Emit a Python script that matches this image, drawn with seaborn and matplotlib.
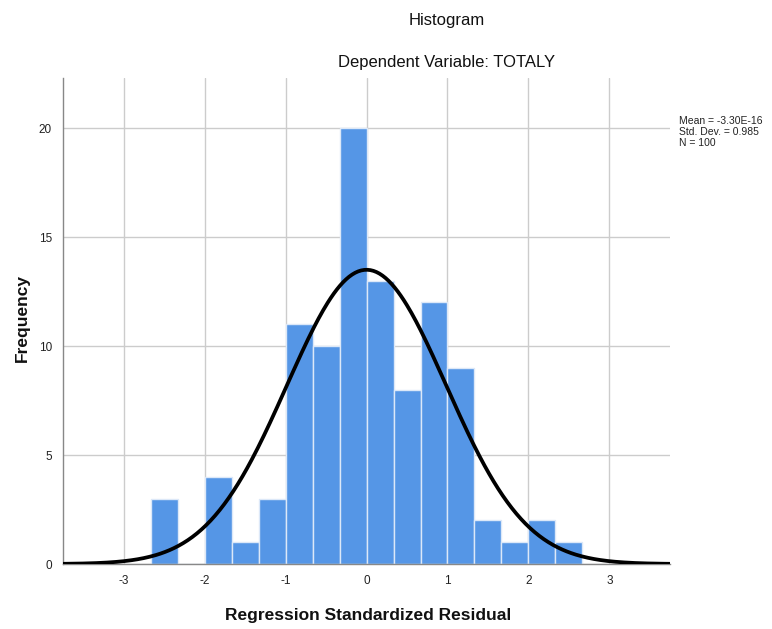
import numpy as np
import pandas as pd
import matplotlib
matplotlib.use("Agg")
import matplotlib.pyplot as plt
import seaborn as sns

# Histogram data (bin width 1/3)
bin_edges = [i / 3 for i in range(-8, 9)]
counts = [3, 0, 4, 1, 3, 11, 10, 20, 13, 8, 12, 9, 2, 1, 2, 1]
mean = -3.30e-16
std_dev = 0.985
n_total = 100

x_ticks = [-3, -2, -1, 0, 1, 2, 3]
y_ticks = [0, 5, 10, 15, 20]

sns.set_theme(style="white")
plt.rcParams["font.family"] = ["Liberation Sans", "DejaVu Sans"]

centers = [(bin_edges[i] + bin_edges[i + 1]) / 2 for i in range(len(counts))]
df = pd.DataFrame({"center": centers, "count": counts})

fig = plt.figure(figsize=(7.72, 6.29), dpi=100)
ax = fig.add_axes([0.0816, 0.1033, 0.7864, 0.7727])

sns.histplot(data=df, x="center", weights="count", bins=bin_edges,
             color="#5596E6", alpha=1, edgecolor="#dce8f8", linewidth=1,
             ax=ax, zorder=2)

# normal curve
width = bin_edges[1] - bin_edges[0]
xs = np.linspace(-3.75, 3.75, 400)
ys = n_total * width * np.exp(-0.5 * ((xs - mean) / std_dev) ** 2) / (std_dev * np.sqrt(2 * np.pi))
sns.lineplot(x=xs, y=ys, color="black", linewidth=2.7, ax=ax, zorder=3)

ax.set_xlim(-3.75, 3.75)
ax.set_ylim(0, 22.3)
ax.set_xticks(x_ticks)
ax.set_yticks(y_ticks)
ax.set_xticklabels([str(t) for t in x_ticks], fontsize=8.5, color="#222222")
ax.set_yticklabels([str(t) for t in y_ticks], fontsize=8.5, color="#222222")
ax.tick_params(length=0, pad=8)
ax.grid(True, color="#cccccc", linewidth=1, zorder=0)
ax.set_axisbelow(True)

for s in ["top", "right"]:
    ax.spines[s].set_visible(False)
for s in ["left", "bottom"]:
    ax.spines[s].set_color("#888888")
    ax.spines[s].set_linewidth(1)

ax.set_xlabel("")
ax.set_ylabel("")
fig.text(0.477, 0.021, "Regression Standardized Residual", ha="center", va="center",
         fontsize=12.5, fontweight="bold", color="#111111")
fig.text(0.029, 0.494, "Frequency", ha="center", va="center", rotation=90,
         fontsize=12.5, fontweight="bold", color="#111111")

fig.text(0.579, 0.968, "Histogram", ha="center", va="center", fontsize=12, color="#111111")
fig.text(0.579, 0.901, "Dependent Variable: TOTALY", ha="center", va="center", fontsize=12, color="#111111")

fig.text(0.879, 0.815, f"Mean = -3.30E-16\nStd. Dev. = {std_dev}\nN = {n_total}",
         ha="left", va="top", fontsize=7.5, linespacing=1.1, color="#222222")

plt.savefig("out.png", dpi=100)
